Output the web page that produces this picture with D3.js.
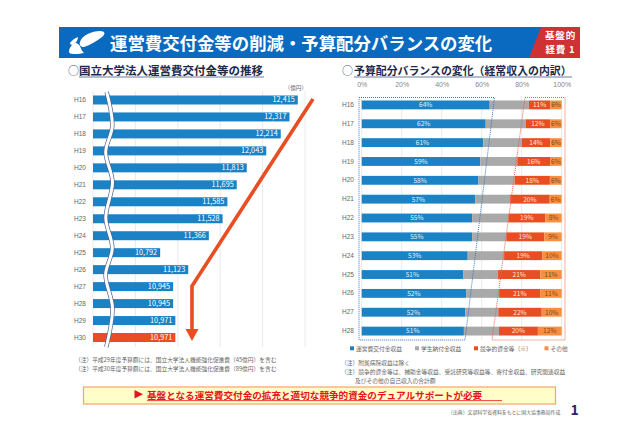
<!DOCTYPE html>
<html><head><meta charset="utf-8">
<script src="https://cdn.jsdelivr.net/npm/d3@7"></script>
<style>html,body{margin:0;background:#fff}svg{display:block;font-family:"Noto Sans CJK JP","Noto Sans",sans-serif}</style>
</head><body><svg id="c" width="640" height="426"></svg>
<script>
const leftYears=["H16","H17","H18","H19","H20","H21","H22","H23","H24","H25","H26","H27","H28","H29","H30"];
const leftValues=[12415,12317,12214,12043,11813,11695,11585,11528,11366,10792,11123,10945,10945,10971,10971];
const leftTicks=[10000,10500,11000,11500,12000,12500];
const rightYears=["H16","H17","H18","H19","H20","H21","H22","H23","H24","H25","H26","H27","H28"];
const opGrant=[64.0,62.0,60.8,59.3,58.4,56.7,55.2,55.2,53.0,50.7,52.2,51.7,51.1];
const tuition=[19.6,20.0,19.2,18.5,18.1,17.5,18.1,17.1,18.2,17.5,16.5,16.6,17.5];
const competitive=[10.7,12.2,14.3,16.4,17.6,19.8,18.5,19.0,19.1,21.1,20.7,21.7,19.5];
const others=[5.7,5.8,5.7,5.8,5.9,6.0,8.2,8.7,9.7,10.7,10.6,10.0,11.9];
const seriesNames=["運営費交付金収益","学生納付金収益","競争的資金等（※）","その他"];
const seriesColors=["#1b82c5","#a9a9a9","#e84e22","#f98f3e"];
const labelColors=["#e3f0fa",null,"#fde6dc","#7a4a22"];
const pctTicks=[0,20,40,60,80,100];
const svg=d3.select("#c");
const txt=(x,y,s,o={})=>svg.append("text").attr("x",x).attr("y",y).text(s)
  .attr("font-size",o.size||6).attr("fill",o.fill||"#666").attr("font-weight",o.weight||400)
  .attr("text-anchor",o.anchor||"start").attr("letter-spacing",o.ls||null);
// header
svg.append("rect").attr("x",59).attr("y",27).attr("width",501).attr("height",31).attr("fill","#0a6abf");
svg.append("path").attr("d","M541 27H580V58H529Z").attr("fill","#cf3234");
svg.append("g").attr("fill","#fff").selectAll("path").data([
 "M80 42C82 35 92 31 100 31C105 31 106 34 102 37C97 41 90 45 84 47C81 47 79 45 80 42Z",
 "M70 43C72 40 75 38 78 37C78 40 76 43 73 45C71 45 70 44 70 43Z",
 "M69 52C69 48 72 44 75 43C78 43 79 45 80 46C81 49 82 51 84 53C80 54 76 54 73 54C71 54 69 53 69 52Z"
]).join("path").attr("d",d=>d);
txt(110,50,"運営費交付金等の削減・予算配分バランスの変化",{size:17.4,fill:"#fff",weight:700});
txt(560.5,39,"基盤的",{size:9.5,fill:"#fff",weight:700,anchor:"middle",ls:0.8});
txt(560.5,53,"経費 1",{size:9.5,fill:"#fff",weight:700,anchor:"middle",ls:0.8});
// left section
txt(68,75,"○",{size:11,fill:"#3d4f7c"});
txt(79,75,"国立大学法人運営費交付金等の推移",{size:11.5,fill:"#1f2a4a",weight:700});
svg.append("line").attr("x1",79).attr("x2",264).attr("y1",77).attr("y2",77).attr("stroke","#6b7aa0").attr("stroke-width",1);
const lx=d3.scaleLinear().domain([10000,12500]).range([93,305]);
const ly=d3.scaleBand().domain(leftYears).range([91.5,346]).paddingInner(0.47).paddingOuter(0.235);
svg.append("g").selectAll("line").data(leftTicks).join("line")
 .attr("x1",d=>lx(d)).attr("x2",d=>lx(d)).attr("y1",91).attr("y2",347).attr("stroke","#e4e4e4").attr("stroke-width",0.8);
svg.append("g").selectAll("rect").data(leftValues).join("rect")
 .attr("x",lx(10000)).attr("y",(d,i)=>ly(leftYears[i])).attr("width",d=>lx(d)-lx(10000)).attr("height",ly.bandwidth())
 .attr("fill",(d,i)=>i===14?"#e84e22":"#1b82c5");
svg.append("g").selectAll("text").data(leftValues).join("text")
 .attr("x",d=>lx(d)-3).attr("y",(d,i)=>ly(leftYears[i])+ly.bandwidth()/2+2.5).attr("text-anchor","end")
 .attr("font-size",7.3).attr("fill","#fff").text(d=>d3.format(",")(d));
const yAxisL=svg.append("g").attr("transform","translate(86,0)").call(d3.axisLeft(ly).tickSize(0).tickPadding(0));
yAxisL.select(".domain").remove();
yAxisL.selectAll("text").attr("font-family",null).attr("font-size",6.5).attr("fill","#666");
txt(307,90,"（億円）",{size:5.6,anchor:"end"});
// break
const wavePts=[[106.7,92],[112.3,126],[105.7,152],[112.5,182],[105.8,218],[112.3,248],[105.6,275],[112.5,308],[106.3,347]];
const wave=d3.line().curve(d3.curveCatmullRom.alpha(0.5))(wavePts);
svg.append("path").attr("d",wave).attr("fill","none").attr("stroke","#4d6594").attr("stroke-width",4.4);
svg.append("path").attr("d",wave).attr("fill","none").attr("stroke","#fff").attr("stroke-width",3);
// arrow
svg.append("path").attr("d","M313 99L192 286V332").attr("fill","none").attr("stroke","#e84e22").attr("stroke-width",3.6);
svg.append("path").attr("d","M185.5 329H198.5L192 341Z").attr("fill","#e84e22");
txt(75,362,"（注）平成29年度予算額には、国立大学法人機能強化促進費（45億円）を含む",{size:5.72});
txt(75,371,"（注）平成30年度予算額には、国立大学法人機能強化促進費（89億円）を含む",{size:5.72});
// right section
txt(342,75,"○",{size:11,fill:"#3d4f7c"});
txt(354,75,"予算配分バランスの変化（経常収入の内訳）",{size:10.9,fill:"#1f2a4a",weight:700});
svg.append("line").attr("x1",354).attr("x2",572).attr("y1",77).attr("y2",77).attr("stroke","#6b7aa0").attr("stroke-width",1);
const rx=d3.scaleLinear().domain([0,100]).range([361.7,561.7]);
const ry=d3.scaleBand().domain(rightYears).range([95.5,340.5]).paddingInner(0.53).paddingOuter(0.265);
svg.append("g").selectAll("line").data(pctTicks).join("line")
 .attr("x1",d=>rx(d)).attr("x2",d=>rx(d)).attr("y1",96).attr("y2",340).attr("stroke","#e4e4e4").attr("stroke-width",0.8);
const xAxisR=svg.append("g").attr("transform","translate(0,89)").call(d3.axisTop(rx).tickValues(pctTicks).tickSize(0).tickPadding(2).tickFormat(d=>d+"%"));
xAxisR.select(".domain").remove();
xAxisR.selectAll("text").attr("font-family",null).attr("font-size",7).attr("fill","#888");
const yAxisR=svg.append("g").attr("transform","translate(354,0)").call(d3.axisLeft(ry).tickSize(0).tickPadding(0));
yAxisR.select(".domain").remove();
yAxisR.selectAll("text").attr("font-family",null).attr("font-size",6.5).attr("fill","#666");
const rows=rightYears.map((y,i)=>({y,a:opGrant[i],b:tuition[i],c:competitive[i],d:others[i]}));
const stacked=d3.stack().keys(["a","b","c","d"])(rows);
stacked.forEach((layer,k)=>{
  const g=svg.append("g");
  g.selectAll("rect").data(layer).join("rect")
   .attr("x",d=>rx(d[0])).attr("y",d=>ry(d.data.y)).attr("width",d=>rx(d[1])-rx(d[0])).attr("height",ry.bandwidth()).attr("fill",seriesColors[k]);
  if(k!==1) g.selectAll("text").data(layer).join("text")
   .attr("x",d=>(rx(d[0])+rx(d[1]))/2).attr("y",d=>ry(d.data.y)+ry.bandwidth()/2+2.4).attr("text-anchor","middle")
   .attr("font-size",6.6).attr("fill",labelColors[k]).text(d=>d3.format(".0f")(d[1]-d[0])+"%");
});
svg.append("path").attr("d","M359 97.5H494.5L465 340H359Z").attr("fill","none").attr("stroke","#3a78c2").attr("stroke-width",1).attr("stroke-dasharray","1 1");
svg.append("path").attr("d","M525 97.5H565V340H492Z").attr("fill","none").attr("stroke","#e5664a").attr("stroke-width",1).attr("stroke-dasharray","1 1");
const legX=[350,415,474,544.5];
seriesNames.forEach((n,i)=>{
  svg.append("rect").attr("x",legX[i]).attr("y",346.3).attr("width",4).attr("height",4).attr("fill",seriesColors[i]);
  txt(legX[i]+6,350.6,n,{size:5.75});
});
txt(341,365,"（注）附属病院収益は除く",{size:5.75});
txt(341,374.2,"（注）競争的資金等は、補助金等収益、受託研究等収益等、寄付金収益、研究関連収益",{size:5.75});
txt(355,382.6,"及びその他の自己収入の合計額",{size:5.75});
// banner
svg.append("rect").attr("x",83.5).attr("y",387).attr("width",472).attr("height",17).attr("fill","#fffdc9").attr("stroke","#f7a468").attr("stroke-width",1.2);
svg.append("path").attr("d","M134.5 390L143 394.2L134.5 398.4Z").attr("fill","#e8141b");
txt(147,398.8,"基盤となる運営費交付金の拡充と適切な競争的資金のデュアルサポートが必要",{size:9.6,fill:"#e8141b",weight:700});
svg.append("line").attr("x1",147).attr("x2",502).attr("y1",400.6).attr("y2",400.6).attr("stroke","#e8141b").attr("stroke-width",0.8);
txt(448,413.8,"（出典）文部科学省資料をもとに国大協事務局作成",{size:4.9});
txt(570.5,414.5,"1",{size:14,fill:"#1f2a6a",weight:700});
</script></body></html>
